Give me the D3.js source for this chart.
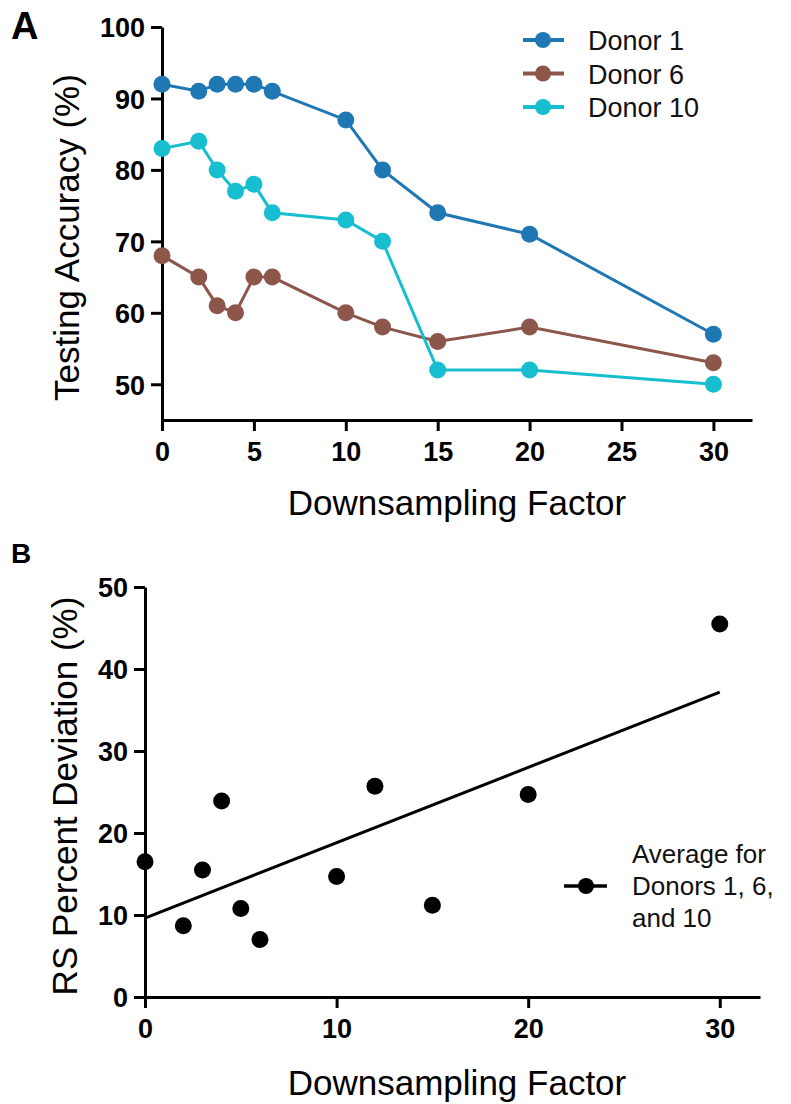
<!DOCTYPE html>
<html>
<head>
<meta charset="utf-8">
<script src="https://cdn.jsdelivr.net/npm/d3@7"></script>
<style>
  body { margin: 0; background: #fff; }
  svg text { font-family: "Liberation Sans", Arial, sans-serif; }
</style>
</head>
<body>
<svg id="chart" width="791" height="1104"></svg>
<script>
// Panel A data
const factorsA = [0, 2, 3, 4, 5, 6, 10, 12, 15, 20, 30];
const donor1 = [92, 91, 92, 92, 92, 91, 87, 80, 74, 71, 57];
const donor6 = [68, 65, 61, 60, 65, 65, 60, 58, 56, 58, 53];
const donor10 = [83, 84, 80, 77, 78, 74, 73, 70, 52, 52, 50];
const seriesNames = ["Donor 1", "Donor 6", "Donor 10"];
const seriesColors = ["#1f77b4", "#8c564b", "#17becf"];
const xTicksA = [0, 5, 10, 15, 20, 25, 30];
const yTicksA = [50, 60, 70, 80, 90, 100];

// Panel B data
const factorsB = [0, 2, 3, 4, 5, 6, 10, 12, 15, 20, 30];
const deviation = [16.5, 8.7, 15.5, 23.9, 10.8, 7.0, 14.7, 25.7, 11.2, 24.7, 45.5];
const xTicksB = [0, 10, 20, 30];
const yTicksB = [0, 10, 20, 30, 40, 50];
const legendB = ["Average for", "Donors 1, 6,", "and 10"];

const svg = d3.select("#chart");

function styleAxis(g) {
    g.select(".domain").attr("stroke", "#000").attr("stroke-width", 3);
    g.selectAll(".tick line").attr("stroke", "#000").attr("stroke-width", 3);
    g.selectAll(".tick text")
        .attr("fill", "#000")
        .style("font-size", "27px")
        .style("font-weight", "bold");
}

// ---------- Panel A ----------
const xA = d3.scaleLinear().domain([0, 32.1]).range([162, 752]);
const yA = d3.scaleLinear().domain([45, 100]).range([420, 27]);

svg.append("text").attr("x", 11).attr("y", 39)
    .style("font-size", "38px").style("font-weight", "bold").text("A");

svg.append("g")
    .attr("transform", `translate(0,${yA(45)})`)
    .call(d3.axisBottom(xA).tickValues(xTicksA).tickSize(11).tickSizeOuter(0).tickPadding(11))
    .call(styleAxis);

svg.append("g")
    .attr("transform", `translate(${xA(0)},0)`)
    .call(d3.axisLeft(yA).tickValues(yTicksA).tickSize(11).tickSizeOuter(0).tickPadding(6))
    .call(g => g.selectAll(".tick text").attr("dy", "0.36em"))
    .call(styleAxis);

svg.append("text")
    .attr("transform", `translate(79,${(yA(45) + yA(100)) / 2 + 14}) rotate(-90)`)
    .attr("text-anchor", "middle")
    .style("font-size", "35px")
    .text("Testing Accuracy (%)");

svg.append("text")
    .attr("x", 457).attr("y", 515)
    .attr("text-anchor", "middle")
    .style("font-size", "35px")
    .text("Downsampling Factor");

const seriesA = [donor1, donor6, donor10];
const lineA = d3.line().x((d, i) => xA(factorsA[i])).y(d => yA(d));

seriesA.forEach((vals, s) => {
    svg.append("path")
        .datum(vals)
        .attr("d", lineA)
        .attr("fill", "none")
        .attr("stroke", seriesColors[s])
        .attr("stroke-width", 3);
    svg.selectAll(null)
        .data(vals)
        .enter()
        .append("circle")
        .attr("cx", (d, i) => xA(factorsA[i]))
        .attr("cy", d => yA(d))
        .attr("r", 8.5)
        .attr("fill", seriesColors[s]);
});

// legend A
seriesNames.forEach((name, s) => {
    const ly = 40 + s * 33.5;
    svg.append("line")
        .attr("x1", 523).attr("x2", 564).attr("y1", ly).attr("y2", ly)
        .attr("stroke", seriesColors[s]).attr("stroke-width", 4);
    svg.append("circle").attr("cx", 543).attr("cy", ly).attr("r", 8).attr("fill", seriesColors[s]);
    svg.append("text").attr("x", 588).attr("y", ly + 10)
        .style("font-size", "27px").attr("fill", "#111").text(name);
});

// ---------- Panel B ----------
const xB = d3.scaleLinear().domain([0, 32.1]).range([145, 760]);
const yB = d3.scaleLinear().domain([0, 50]).range([997, 587]);

svg.append("text").attr("x", 11).attr("y", 563)
    .style("font-size", "28px").style("font-weight", "bold").text("B");

svg.append("g")
    .attr("transform", `translate(0,${yB(0)})`)
    .call(d3.axisBottom(xB).tickValues(xTicksB).tickSize(11).tickSizeOuter(0).tickPadding(11))
    .call(styleAxis);

svg.append("g")
    .attr("transform", `translate(${xB(0)},0)`)
    .call(d3.axisLeft(yB).tickValues(yTicksB).tickSize(11).tickSizeOuter(0).tickPadding(6))
    .call(g => g.selectAll(".tick text").attr("dy", "0.36em"))
    .call(styleAxis);

svg.append("text")
    .attr("transform", `translate(77,${(yB(0) + yB(50)) / 2 + 4}) rotate(-90)`)
    .attr("text-anchor", "middle")
    .style("font-size", "35px")
    .text("RS Percent Deviation (%)");

svg.append("text")
    .attr("x", 457).attr("y", 1095)
    .attr("text-anchor", "middle")
    .style("font-size", "35px")
    .text("Downsampling Factor");

// linear regression fit
const mx = d3.mean(factorsB);
const my = d3.mean(deviation);
const slope = d3.sum(factorsB, (x, i) => (x - mx) * (deviation[i] - my)) /
    d3.sum(factorsB, x => (x - mx) * (x - mx));
const intercept = my - slope * mx;
const fitX = d3.extent(factorsB);

svg.append("line")
    .attr("x1", xB(fitX[0])).attr("y1", yB(intercept + slope * fitX[0]))
    .attr("x2", xB(fitX[1])).attr("y2", yB(intercept + slope * fitX[1]))
    .attr("stroke", "#000").attr("stroke-width", 3);

svg.selectAll(null)
    .data(deviation)
    .enter()
    .append("circle")
    .attr("cx", (d, i) => xB(factorsB[i]))
    .attr("cy", d => yB(d))
    .attr("r", 8.5)
    .attr("fill", "#000");

// legend B
svg.append("line").attr("x1", 564).attr("x2", 607).attr("y1", 886).attr("y2", 886)
    .attr("stroke", "#000").attr("stroke-width", 3.5);
svg.append("circle").attr("cx", 586).attr("cy", 886).attr("r", 8).attr("fill", "#000");
legendB.forEach((t, i) => {
    svg.append("text").attr("x", 632).attr("y", 863 + i * 32)
        .style("font-size", "26px").attr("fill", "#111").text(t);
});
</script>
</body>
</html>
